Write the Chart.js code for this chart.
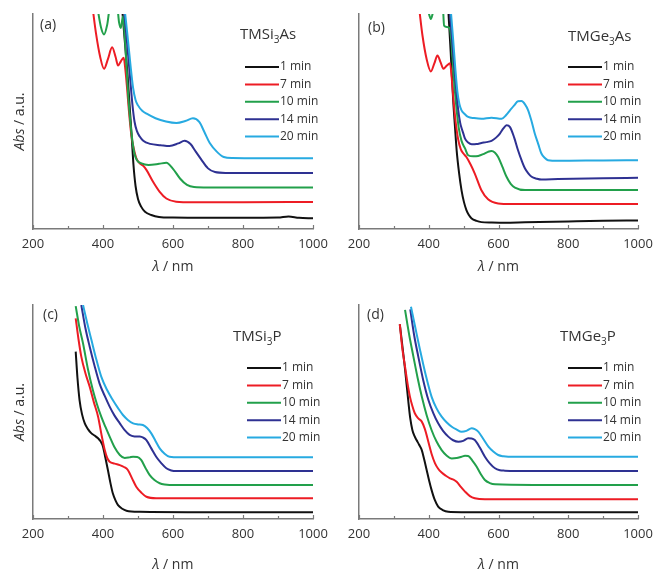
<!DOCTYPE html>
<html>
<head>
<meta charset="utf-8">
<script src="https://cdn.jsdelivr.net/npm/chart.js@4.4.1/dist/chart.umd.min.js"></script>
<style>
  html, body { margin: 0; padding: 0; background: #fff; overflow: hidden; }
  #wrap { position: relative; width: 655px; height: 569px; overflow: hidden; }
  canvas { position: absolute; }
</style>
</head>
<body>
<div id="wrap">
  <canvas id="chartA" width="345" height="290" style="left:0;top:0"></canvas>
  <canvas id="chartB" width="345" height="290" style="left:327px;top:0"></canvas>
  <canvas id="chartC" width="345" height="290" style="left:0;top:290px"></canvas>
  <canvas id="chartD" width="345" height="290" style="left:327px;top:290px"></canvas>
</div>
<script>
// legend labels and series colours (same in every panel)
const timeLabels = ['1 min', '7 min', '10 min', '14 min', '20 min'];
const seriesColors = ['#111111', '#ed1c24', '#22a04b', '#2e3192', '#27aae1'];

// x axis ticks (nm)
const majorTicks = [200, 400, 600, 800, 1000];
const minorTicks = [300, 500, 700, 900];

const panelLetters = ['(a)', '(b)', '(c)', '(d)'];
// compound names: [text, subscript, text]
const panelNames = [['TMSi', '3', 'As'], ['TMGe', '3', 'As'], ['TMSi', '3', 'P'], ['TMGe', '3', 'P']];

// ---- (a) TMSi3As, absorbance in a.u. (0 = axis, 100 = top of frame)
const a1Nm  = [455, 462, 470, 477, 482, 487, 493, 500, 509, 520, 538, 560, 600, 700, 800, 900, 930, 960, 1000];
const a1Abs = [102, 88, 72, 55, 43, 30, 20, 14, 10.4, 8, 6.5, 5.6, 5.3, 5.2, 5.2, 5.3, 5.8, 5.2, 5.0];
const a2Nm  = [371, 380, 392, 403, 414, 426, 436, 443, 451, 459, 464, 469, 474, 480, 487, 495, 505, 514, 524, 543, 562, 581, 609, 657, 800, 1000];
const a2Abs = [102, 91, 80, 74.5, 79, 84.5, 80, 76, 78, 79.6, 74, 65, 55, 45, 38, 33, 30.5, 29.5, 27.5, 22, 17.3, 14.2, 12.7, 12.4, 12.4, 12.6];
const a3Nm  = [384, 394, 403, 412, 420, 440, 446, 451, 457, 462, 467, 472, 478, 484, 490, 497, 510, 530, 560, 581, 600, 620, 640, 660, 700, 1000];
const a3Abs = [103, 94, 90.5, 95, 103, 104, 96, 93.5, 99, 90, 76, 62, 50, 41, 35, 32, 30.5, 29.8, 30.3, 30.8, 28, 23.5, 20.5, 19.5, 19.3, 19.3];
const a4Nm  = [460, 468, 476, 484, 490, 497, 505, 515, 535, 565, 590, 615, 633, 650, 665, 680, 700, 720, 750, 850, 1000];
const a4Abs = [102, 88, 73, 58, 50, 45.5, 43, 41, 39.6, 39, 38.6, 39.8, 41, 39.5, 36, 32.5, 28.2, 26.5, 26.1, 26.1, 26.1];
const a5Nm  = [462, 470, 478, 486, 493, 500, 512, 526, 550, 580, 610, 635, 657, 675, 690, 705, 725, 745, 770, 850, 1000];
const a5Abs = [102, 90, 77, 65.6, 60, 57.5, 55, 53.5, 51.5, 50, 49.3, 50.2, 51.5, 49.8, 45, 40, 36, 33.5, 33, 32.9, 32.9];

// ---- (b) TMGe3As
const b1Nm  = [456, 463, 470, 475, 480, 487, 494, 501, 508, 515, 523, 537, 551, 580, 618, 676, 800, 900, 1000];
const b1Abs = [102, 82, 60, 48, 36.6, 26, 18, 12.5, 8.8, 6.5, 4.9, 3.8, 3.2, 3.0, 2.9, 3.1, 3.5, 3.8, 4.0];
const b2Nm  = [373, 382, 394, 406, 416, 425, 434, 442, 452, 461, 466, 471, 477, 484, 492, 500, 508, 520, 532, 551, 570, 599, 637, 800, 1000];
const b2Abs = [102, 90, 79, 73.3, 77, 80.7, 77.5, 74.5, 76, 77.1, 70, 60, 50, 42, 37, 35, 33.5, 30, 25.8, 18, 13.8, 11.9, 11.6, 11.6, 11.6];
const b3Nm  = [399, 406, 413, 440, 444, 452, 460, 466, 472, 479, 486, 494, 504, 513, 528, 542, 556, 570, 580, 590, 599, 611, 623, 635, 647, 676, 800, 1000];
const b3Abs = [101, 97.7, 101, 104, 94.6, 94, 93.5, 85, 70, 57, 47, 41, 37.5, 34.3, 33.8, 34, 34.8, 35.9, 36.3, 35.5, 33.5, 29, 24.3, 21, 19.3, 18.1, 18.1, 18.1];
const b4Nm  = [460, 468, 476, 484, 490, 494, 499, 504, 513, 523, 537, 551, 565, 580, 593, 604, 614, 623, 633, 645, 656, 666, 676, 686, 695, 710, 723, 771, 900, 1000];
const b4Abs = [102, 86, 70, 56, 49.5, 47, 44.5, 42, 40.2, 39.4, 39.5, 40, 40.4, 41, 42.5, 44.4, 46.8, 48.2, 47.4, 42.5, 36.6, 32, 28.1, 25.8, 24.3, 23.4, 23.0, 23.2, 23.6, 23.8];
const b5Nm  = [463, 470, 476, 482, 488, 494, 503, 513, 530, 551, 580, 609, 622, 633, 645, 656, 666, 676, 685, 695, 704, 714, 723, 733, 742, 771, 900, 1000];
const b5Abs = [102, 88, 75, 64, 58, 55.2, 53.5, 52.1, 51.6, 51.3, 51.8, 51.3, 53, 55.2, 57.5, 59.4, 59.5, 58, 55.2, 50, 44.4, 39.5, 35.1, 33, 32, 31.7, 31.9, 32.0];

// ---- (c) TMSi3P
const c1Nm  = [322, 327, 333, 340, 348, 357, 367, 376, 386, 393, 400, 407, 414, 421, 428, 436, 443, 455, 467, 505, 700, 1000];
const c1Abs = [78.2, 66, 55.6, 49, 44.7, 42, 40, 39, 37.7, 36.3, 33.8, 28.5, 22.9, 17, 12, 8.6, 6.5, 4.8, 3.9, 3.4, 3.2, 3.1];
const c2Nm  = [322, 330, 338, 350, 362, 374, 386, 395, 405, 412, 419, 433, 448, 460, 471, 483, 495, 510, 524, 552, 700, 1000];
const c2Abs = [93.8, 84, 75.9, 68, 61.8, 54.5, 47.8, 40, 32.2, 28.5, 26.8, 25.9, 25.2, 24.3, 22.9, 19, 15.1, 12.2, 10.4, 9.7, 9.7, 9.7];
const c3Nm  = [322, 332, 343, 357, 371, 383, 395, 407, 419, 433, 448, 462, 476, 486, 498, 509, 521, 533, 547, 562, 576, 590, 700, 1000];
const c3Abs = [99.5, 90, 82, 70, 60.3, 53.5, 47.8, 43, 38.5, 33.5, 29.9, 28.5, 28.8, 29.1, 29, 27.6, 24, 20.6, 18.2, 16.7, 16.1, 15.9, 15.9, 15.9];
const c4Nm  = [338, 350, 362, 376, 390, 405, 419, 433, 448, 462, 476, 490, 505, 515, 524, 538, 552, 567, 581, 595, 609, 700, 1000];
const c4Abs = [100, 89, 80.5, 71.5, 63.4, 57.5, 52.5, 48.3, 44.7, 41.5, 39.3, 38.6, 38.5, 38, 36.9, 33, 29.1, 26, 23.7, 22.7, 22.4, 22.4, 22.4];
const c5Nm  = [343, 355, 367, 381, 395, 411, 428, 443, 457, 471, 486, 500, 514, 526, 538, 550, 562, 576, 590, 619, 700, 1000];
const c5Abs = [100, 91.5, 83.6, 74.5, 66.5, 60.5, 55.6, 51.8, 48.6, 46.3, 44.7, 44.2, 43.9, 42.5, 40, 36.5, 33, 30.5, 29.1, 28.8, 28.8, 28.8];

// ---- (d) TMGe3P
const d1Nm  = [317, 325, 332, 341, 347, 353, 359, 365, 372, 380, 387, 394, 401, 408, 417, 427, 440, 456, 500, 700, 1000];
const d1Abs = [91, 80, 70, 55.6, 47, 41.6, 38.8, 36.9, 34.8, 32.2, 27.8, 22.9, 18, 13.6, 9, 5.8, 4.2, 3.4, 3.2, 3.1, 3.1];
const d2Nm  = [317, 324, 332, 339, 346, 353, 360, 370, 380, 389, 399, 408, 418, 427, 437, 449, 461, 471, 480, 492, 504, 518, 532, 561, 700, 1000];
const d2Abs = [91.1, 80, 71.2, 63.5, 57.2, 52.8, 49.4, 47, 45.5, 42, 36, 30.5, 26, 23.5, 21.7, 20.2, 19, 18.4, 17.4, 15, 12.8, 10.7, 9.7, 9.2, 9.2, 9.2];
const d3Nm  = [332, 344, 356, 368, 380, 394, 408, 422, 437, 451, 466, 480, 494, 504, 513, 525, 537, 549, 561, 575, 590, 700, 1000];
const d3Abs = [97.7, 86, 75.9, 66, 57.2, 48.5, 41.6, 36.3, 32.2, 29.7, 28.3, 28.5, 29.1, 29.5, 29.4, 27.3, 24.5, 21, 18.2, 16.8, 16.2, 15.9, 15.9];
const d4Nm  = [347, 358, 370, 384, 399, 413, 427, 441, 456, 470, 485, 499, 513, 523, 532, 546, 561, 575, 590, 604, 618, 700, 1000];
const d4Abs = [98, 86, 75.9, 65, 55.6, 49.5, 44.7, 41.2, 38.5, 36.8, 36.1, 36.5, 37.7, 37.6, 36.9, 33.5, 29.1, 26, 23.7, 22.8, 22.6, 22.4, 22.4];
const d5Nm  = [349, 362, 375, 391, 408, 422, 437, 451, 466, 480, 494, 508, 523, 532, 542, 556, 571, 585, 599, 614, 628, 700, 1000];
const d5Abs = [99.2, 89, 79, 67.5, 57.2, 51.8, 47.8, 45.2, 43.1, 41.8, 40.8, 41.2, 42.4, 42, 40.8, 37.5, 33.8, 31.5, 29.9, 29.3, 29.1, 29.1, 29.1];

const axisColor = '#7a7a7a';
const textColor = '#333333';
const fontFamily = '"Open Sans", "Noto Sans", sans-serif';

/**
 * Draws inner ticks, panel letter, compound name, legend and axis labels.
 */
const decoPlugin = {
  id: 'deco',
  afterDraw(chart, args, o) {
    const ctx = chart.ctx;
    const ca = chart.chartArea;
    const x = chart.scales.x;
    ctx.save();

    // ticks point up into the plot
    ctx.strokeStyle = axisColor;
    ctx.lineWidth = 1.2;
    majorTicks.forEach(v => {
      const px = Math.round(x.getPixelForValue(v)) + 0.5;
      ctx.beginPath(); ctx.moveTo(px, ca.bottom); ctx.lineTo(px, ca.bottom - 4); ctx.stroke();
    });
    minorTicks.forEach(v => {
      const px = Math.round(x.getPixelForValue(v)) + 0.5;
      ctx.beginPath(); ctx.moveTo(px, ca.bottom); ctx.lineTo(px, ca.bottom - 3); ctx.stroke();
    });

    ctx.fillStyle = textColor;
    ctx.textBaseline = 'middle';
    ctx.textAlign = 'left';

    // panel letter
    ctx.font = '14px ' + fontFamily;
    ctx.fillText(o.letter, ca.left + o.letterX, ca.top + o.letterY);

    // compound name with subscript
    let nx = ca.left + o.nameX;
    const ny = ca.top + o.nameY;
    o.name.forEach((part, i) => {
      if (i === 1) {
        ctx.font = '10px ' + fontFamily;
        ctx.fillText(part, nx, ny + 5);
      } else {
        ctx.font = '15px ' + fontFamily;
        ctx.fillText(part, nx, ny);
      }
      nx += ctx.measureText(part).width;
    });

    // legend
    ctx.font = '12px ' + fontFamily;
    chart.data.datasets.forEach((ds, i) => {
      const ly = ca.top + o.legY + i * 17.4;
      const lx = ca.left + o.legX;
      ctx.strokeStyle = ds.borderColor;
      ctx.lineWidth = 2;
      ctx.beginPath(); ctx.moveTo(lx, ly); ctx.lineTo(lx + 34, ly); ctx.stroke();
      ctx.fillStyle = textColor;
      ctx.fillText(ds.label, lx + 35, ly);
    });

    // x axis label: λ / nm
    const lam = 'λ';
    const rest = ' / nm';
    ctx.font = '14px ' + fontFamily;
    const wRest = ctx.measureText(rest).width;
    ctx.font = 'italic 14px ' + fontFamily;
    const wLam = ctx.measureText(lam).width;
    const xx = (ca.left + ca.right) / 2 - (wLam + wRest) / 2;
    const xy = ca.bottom + o.xLabelDy;
    ctx.fillText(lam, xx, xy);
    ctx.font = '14px ' + fontFamily;
    ctx.fillText(rest, xx + wLam, xy);

    // y axis label: Abs / a.u.
    if (o.yLabel) {
      ctx.translate(ca.left - 13, (ca.top + ca.bottom) / 2);
      ctx.rotate(-Math.PI / 2);
      ctx.font = 'italic 14px ' + fontFamily;
      const wAbs = ctx.measureText('Abs').width;
      ctx.font = '14px ' + fontFamily;
      const wAu = ctx.measureText(' / a.u.').width;
      const sx = -(wAbs + wAu) / 2;
      ctx.font = 'italic 14px ' + fontFamily;
      ctx.fillText('Abs', sx, 0);
      ctx.font = '14px ' + fontFamily;
      ctx.fillText(' / a.u.', sx + wAbs, 0);
    }
    ctx.restore();
  }
};

function makeSets(nmList, absList) {
  return nmList.map((nm, i) => ({
    label: timeLabels[i],
    data: nm.map((w, j) => ({ x: w, y: absList[i][j] })),
    borderColor: seriesColors[i],
    backgroundColor: seriesColors[i],
    borderWidth: 2,
    pointRadius: 0,
    fill: false,
    cubicInterpolationMode: 'monotone',
    order: nmList.length - i
  }));
}

function drawPanel(id, idx, nmList, absList, lay) {
  const ctx = document.getElementById(id).getContext('2d');
  return new Chart(ctx, {
    type: 'line',
    data: { datasets: makeSets(nmList, absList) },
    options: {
      responsive: false,
      animation: false,
      devicePixelRatio: 1,
      layout: { padding: { top: lay.top, right: lay.right, left: 0, bottom: 0 } },
      plugins: {
        legend: { display: false },
        tooltip: { enabled: false },
        deco: {
          letter: panelLetters[idx],
          name: panelNames[idx],
          letterX: lay.letterX, letterY: lay.letterY,
          nameX: lay.nameX, nameY: lay.nameY,
          legX: lay.legX, legY: lay.legY,
          xLabelDy: lay.xLabelDy,
          yLabel: lay.yLabel
        }
      },
      scales: {
        x: {
          type: 'linear',
          min: 200,
          max: 1000,
          afterFit: s => { s.height = 61; },
          afterBuildTicks: s => { s.ticks = majorTicks.map(v => ({ value: v })); },
          grid: { display: false, drawTicks: false },
          border: { display: true, color: axisColor, width: 1.5 },
          ticks: {
            padding: 7,
            color: textColor,
            maxRotation: 0,
            font: { family: fontFamily, size: 13 },
            callback: v => String(v)
          }
        },
        y: {
          min: 0,
          max: 100,
          afterFit: s => { s.width = lay.yWidth; },
          grid: { display: false, drawTicks: false },
          border: { display: true, color: axisColor, width: 1.5 },
          ticks: { display: false }
        }
      }
    },
    plugins: [decoPlugin]
  });
}

drawPanel('chartA', 0, [a1Nm, a2Nm, a3Nm, a4Nm, a5Nm], [a1Abs, a2Abs, a3Abs, a4Abs, a5Abs],
  { top: 14, right: 32, yWidth: 33, letterX: 7, letterY: 11, nameX: 207, nameY: 21, legX: 212, legY: 53, xLabelDy: 38, yLabel: true });
drawPanel('chartB', 1, [b1Nm, b2Nm, b3Nm, b4Nm, b5Nm], [b1Abs, b2Abs, b3Abs, b4Abs, b5Abs],
  { top: 14, right: 34, yWidth: 32, letterX: 9, letterY: 14, nameX: 209, nameY: 23, legX: 209, legY: 53, xLabelDy: 38, yLabel: false });
drawPanel('chartC', 2, [c1Nm, c2Nm, c3Nm, c4Nm, c5Nm], [c1Abs, c2Abs, c3Abs, c4Abs, c5Abs],
  { top: 15, right: 32, yWidth: 33, letterX: 10, letterY: 10, nameX: 200, nameY: 32, legX: 214, legY: 63, xLabelDy: 46, yLabel: true });
drawPanel('chartD', 3, [d1Nm, d2Nm, d3Nm, d4Nm, d5Nm], [d1Abs, d2Abs, d3Abs, d4Abs, d5Abs],
  { top: 15, right: 34, yWidth: 32, letterX: 8, letterY: 10, nameX: 201, nameY: 32, legX: 209, legY: 63, xLabelDy: 46, yLabel: false });
</script>
</body>
</html>
